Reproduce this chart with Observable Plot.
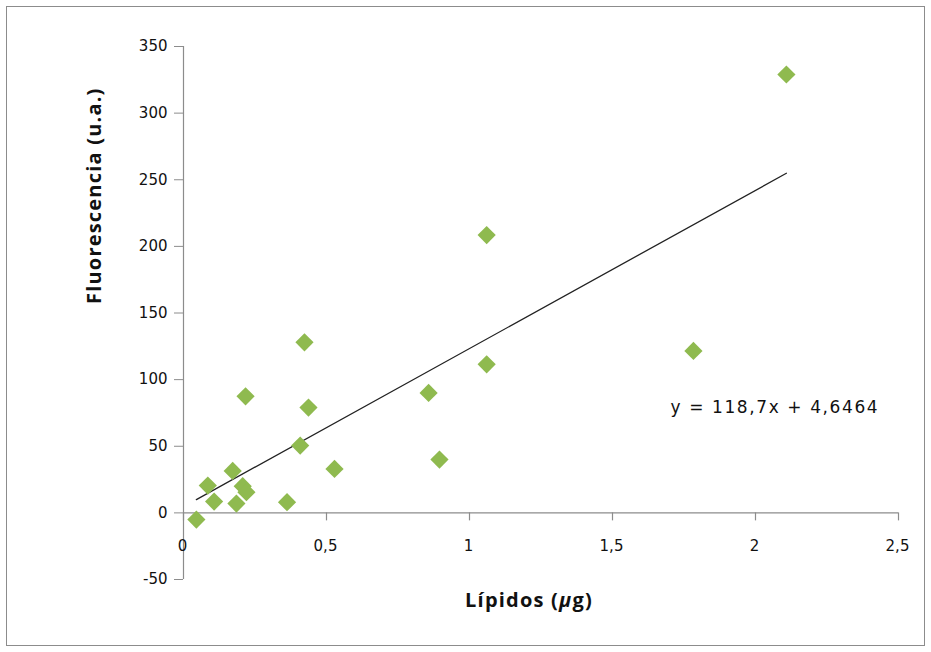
<!DOCTYPE html>
<html>
<head>
<meta charset="utf-8">
<script src="https://cdn.jsdelivr.net/npm/d3@7"></script>
<script src="https://cdn.jsdelivr.net/npm/@observablehq/plot@0.6"></script>
<style>
  html, body { margin: 0; padding: 0; background: #fff; }
  #chart { position: relative; width: 931px; height: 652px; }
  #chart svg { display: block; outline: 1px solid #8c8c8c; outline-offset: -7px; }
</style>
</head>
<body>
<div id="chart"></div>
<script>
// Data
const lipidos = [0.045, 0.085, 0.107, 0.172, 0.185, 0.207, 0.22, 0.217, 0.362, 0.408, 0.423, 0.437, 0.528, 0.857, 0.895, 1.06, 1.06, 1.783, 2.108];
const fluorescencia = [-5, 20.5, 8.5, 31.5, 7, 20, 15.5, 87.5, 8, 50.5, 128, 79, 33, 90, 40, 208.5, 111.5, 121.5, 329];

const trendSlope = 118.7;
const trendIntercept = 4.6464;
const equationLabel = "y = 118,7x + 4,6464";

const xTicks = [0, 0.5, 1, 1.5, 2, 2.5];
const xTickLabels = ["0", "0,5", "1", "1,5", "2", "2,5"];
const yTicks = [-50, 0, 50, 100, 150, 200, 250, 300, 350];

const xTitle = "Lípidos (μg)";
const yTitle = "Fluorescencia (u.a.)";

const points = lipidos.map((x, i) => ({x, y: fluorescencia[i]}));
const [xMin, xMax] = d3.extent(lipidos);
const trend = [xMin, xMax].map(x => ({x, y: trendSlope * x + trendIntercept}));
const xTickData = xTicks.map((v, i) => ({v, label: xTickLabels[i]}));

const axisColor = "#8c8c8c";
const tickFont = "DejaVu Sans, sans-serif";
const titleFont = "Open Sans, sans-serif";
const tickSize = 15;

const chart = Plot.plot({
  width: 931,
  height: 652,
  marginLeft: 183,
  marginRight: 33,
  marginTop: 46,
  marginBottom: 73,
  style: {background: "#fff", fontFamily: tickFont},
  x: {domain: [0, 2.5], axis: null},
  y: {domain: [-50, 350], axis: null},
  marks: [
    // y axis
    Plot.ruleX([0], {stroke: axisColor, strokeWidth: 1.2}),
    Plot.axisY(yTicks, {
      anchor: "left",
      tickSize: 9,
      tickPadding: 7,
      stroke: axisColor,
      fill: "#111",
      fontSize: tickSize,
      fontFamily: tickFont,
      tickFormat: d => String(d),
      label: null
    }),
    // x axis at y = 0
    Plot.ruleY([0], {stroke: axisColor, strokeWidth: 1.2}),
    Plot.ruleX(xTickData, {x: "v", y1: 0, y2: -6, stroke: axisColor, strokeWidth: 1.2}),
    Plot.text(xTickData, {x: "v", y: 0, text: "label", dy: 33, dx: -1, fontSize: tickSize, fontFamily: tickFont, fill: "#111"}),
    // trend line
    Plot.line(trend, {x: "x", y: "y", stroke: "#222", strokeWidth: 1.3}),
    // points
    Plot.dot(points, {x: "x", y: "y", symbol: "diamond2", r: 8.2, fill: "#8fba4f", stroke: "none"}),
    // equation label
    Plot.text([equationLabel], {frameAnchor: "top-left", dx: 487, dy: 354, textAnchor: "start", fontSize: 17, fontFamily: tickFont, fill: "#111", className: "eqlabel"}),
    // axis titles
    Plot.text([yTitle], {frameAnchor: "left", rotate: -90, dx: -89, dy: -9, fontSize: 20, fontWeight: "bold", fontFamily: titleFont, fill: "#111", className: "ytitle"}),
    Plot.text([xTitle], {frameAnchor: "bottom", dx: -12, dy: 27, fontSize: 20, fontWeight: "bold", fontFamily: titleFont, fill: "#111", className: "xtitle"})
  ]
});
const svg = d3.select(chart);
svg.selectAll(".eqlabel text").style("letter-spacing", "1.6px");
svg.selectAll(".ytitle text, .xtitle text").style("letter-spacing", "1.2px");
svg.selectAll(".xtitle text").html('Lípidos (<tspan font-style="italic">μ</tspan>g)');
document.getElementById("chart").appendChild(chart);
</script>
</body>
</html>
